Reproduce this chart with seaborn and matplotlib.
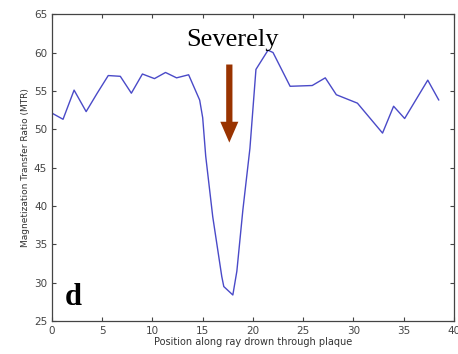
import numpy as np
import pandas as pd
import matplotlib
matplotlib.use('Agg')
import matplotlib.pyplot as plt
import seaborn as sns

# Data -----------------------------------------------------------------------

position = [0.0, 1.1, 2.2, 3.4, 4.5, 5.6, 6.8, 7.9, 9.0, 10.2, 11.3, 12.4,
            13.6, 14.7, 15.0, 15.3, 16.0, 16.9, 17.1, 18.0, 18.4, 19.0, 19.7,
            20.3, 21.5, 22.0, 23.7, 25.9, 27.2, 28.3, 30.4, 32.9, 34.0, 35.1,
            37.4, 38.5]
mtr = [52.1, 51.3, 55.1, 52.3, 54.7, 57.0, 56.9, 54.7, 57.2, 56.6, 57.4,
       56.7, 57.1, 53.8, 51.5, 46.5, 38.6, 30.8, 29.5, 28.4, 31.5, 39.5, 47.5,
       57.8, 60.3, 60.0, 55.6, 55.7, 56.7, 54.5, 53.4, 49.5, 53.0, 51.4, 56.4,
       53.8]

x_ticks = [0, 5, 10, 15, 20, 25, 30, 35, 40]
y_ticks = [25, 30, 35, 40, 45, 50, 55, 60, 65]

df = pd.DataFrame({'position': position, 'mtr': mtr})

# Plot -----------------------------------------------------------------------

sns.set_style('ticks')

fig = plt.figure(figsize=(4.58, 3.54), dpi=100)
ax = fig.add_axes([0.1135, 0.093, 0.8775, 0.867])

sns.lineplot(data=df, x='position', y='mtr', ax=ax, color='#4a4ac8',
             linewidth=1.0)

ax.set_xlim(0, 40)
ax.set_ylim(25, 65)
ax.set_xticks(x_ticks)
ax.set_yticks(y_ticks)
ax.tick_params(direction='in', top=True, right=True, length=3,
               labelsize=7.5, labelcolor='#444444', color='#444444',
               width=0.8)
for s in ax.spines.values():
    s.set_color('#444444')
    s.set_linewidth(0.9)

ax.set_xlabel('Position along ray drown through plaque', fontsize=7,
              color='#333333', labelpad=1)
ax.set_ylabel('Magnetization Transfer Ratio (MTR)', fontsize=6.5,
              color='#333333', labelpad=3)

# annotations
ax.text(17.95, 60.8, 'Severely', fontsize=19, family='Liberation Serif',
        ha='center', va='baseline', color='black')
ax.annotate('', xy=(17.65, 47.9), xytext=(17.65, 58.8),
            arrowprops=dict(arrowstyle='simple,head_width=1.3,head_length=1.5,'
                                       'tail_width=0.45',
                            color='#993300', lw=0))
ax.text(1.3, 27.1, 'd', fontsize=22, family='Liberation Serif',
        fontweight='bold', ha='left', va='baseline', color='black')

fig.savefig('out.png', dpi=100)
